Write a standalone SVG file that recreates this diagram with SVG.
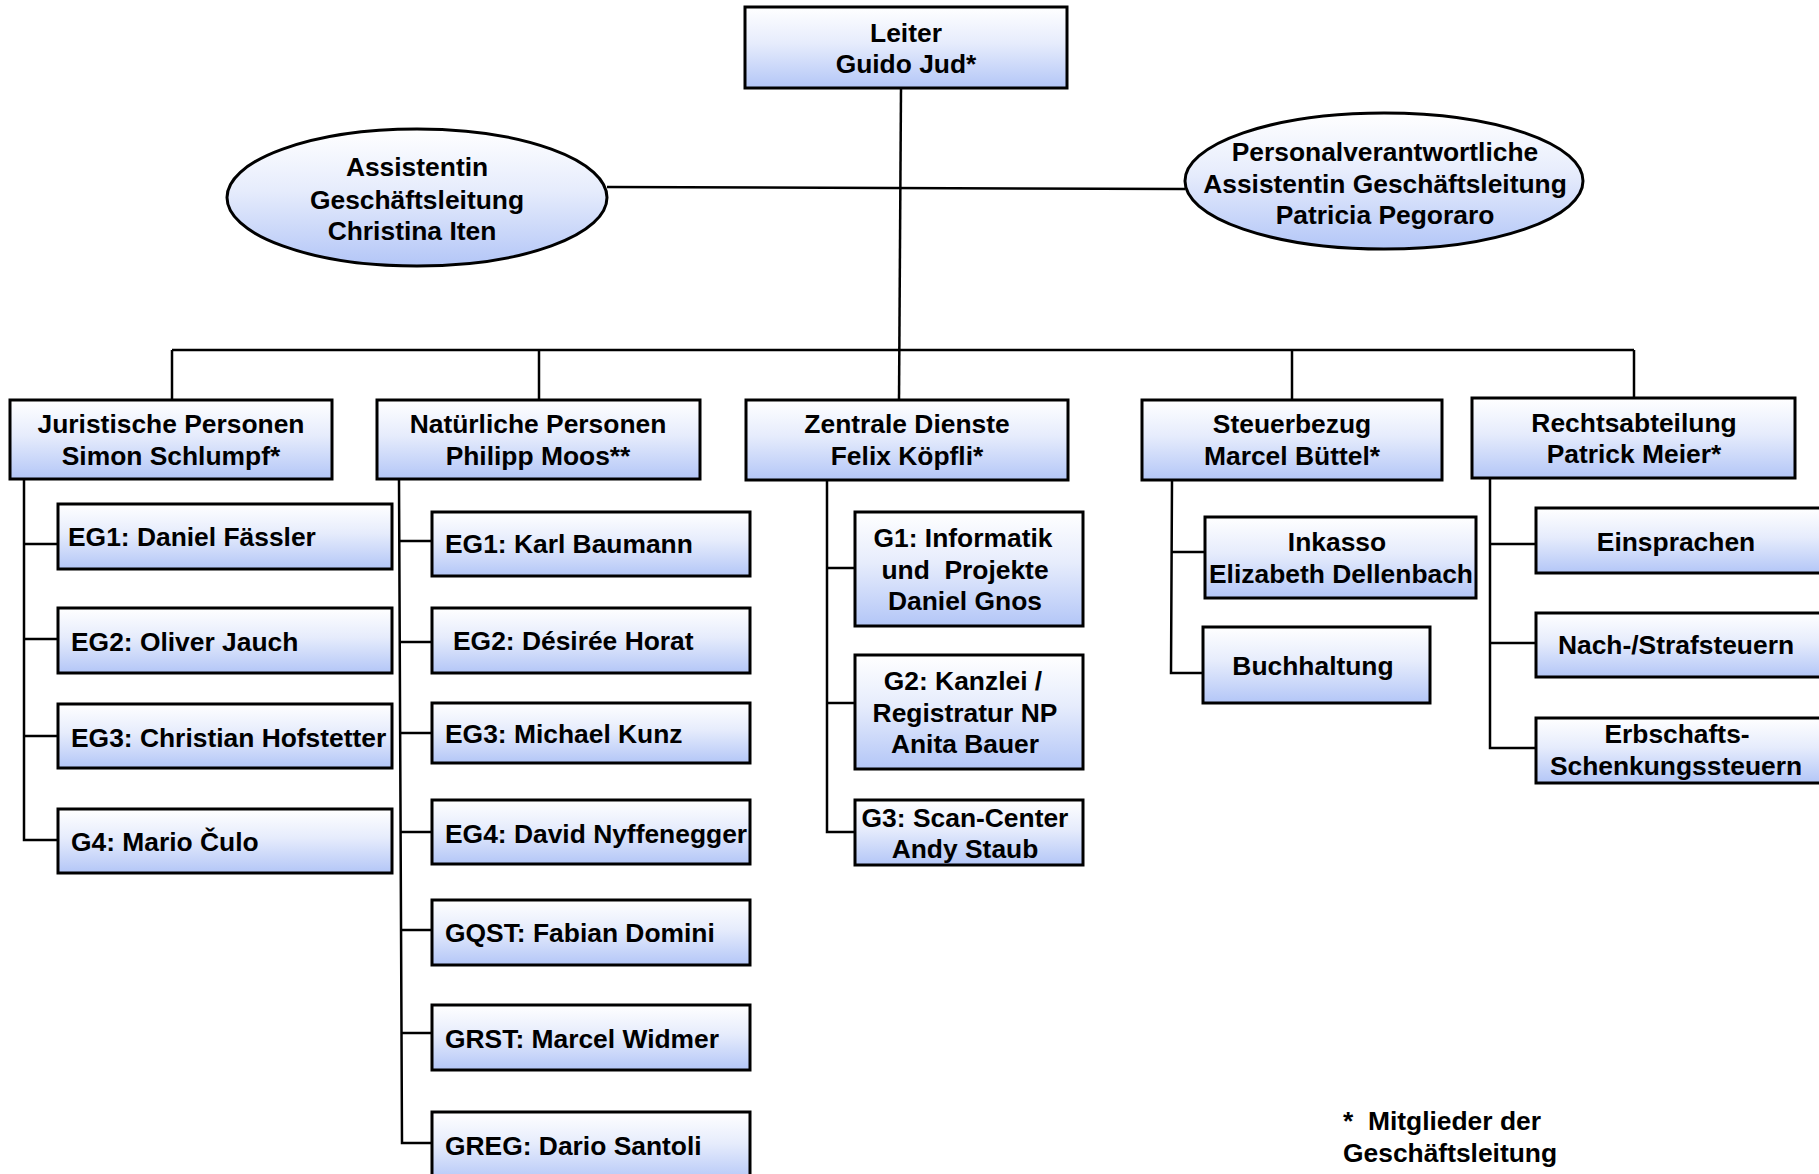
<svg xmlns="http://www.w3.org/2000/svg" width="1819" height="1174" viewBox="0 0 1819 1174">
<defs>
<linearGradient id="g" x1="0" y1="0" x2="0" y2="1">
<stop offset="0" stop-color="#ffffff"/>
<stop offset="0.45" stop-color="#e6ecfc"/>
<stop offset="1" stop-color="#b3c6f7"/>
</linearGradient>
<style>
.b{fill:url(#g);stroke:#000;stroke-width:3}
.t{font-family:"Liberation Sans",Arial,sans-serif;font-weight:bold;font-size:26.4px;fill:#000}
.c{text-anchor:middle}
.l{fill:none;stroke:#000;stroke-width:2.5}
</style>
</defs>
<rect width="1819" height="1174" fill="#fff"/>
<g id="connectors" class="l">
<line x1="901" y1="88" x2="899" y2="400"/>
<line x1="607" y1="187" x2="1185" y2="189"/>
<line x1="172" y1="350" x2="1634" y2="350"/>
<line x1="172" y1="350" x2="172" y2="400"/>
<line x1="539" y1="350" x2="539" y2="400"/>
<line x1="1292" y1="350" x2="1292" y2="400"/>
<line x1="1634" y1="350" x2="1634" y2="398"/>
<polyline points="24,479 24,840 58,840"/>
<line x1="24" y1="544" x2="58" y2="544"/>
<line x1="24" y1="639" x2="58" y2="639"/>
<line x1="24" y1="736" x2="58" y2="736"/>
<polyline points="399,479 402,1143 432,1143"/>
<line x1="399" y1="541" x2="432" y2="541"/>
<line x1="400" y1="642" x2="432" y2="642"/>
<line x1="400" y1="733" x2="432" y2="733"/>
<line x1="400" y1="832" x2="432" y2="832"/>
<line x1="401" y1="930" x2="432" y2="930"/>
<line x1="401" y1="1033" x2="432" y2="1033"/>
<polyline points="827,480 827,832 855,832"/>
<line x1="827" y1="568" x2="855" y2="568"/>
<line x1="827" y1="703" x2="855" y2="703"/>
<polyline points="1172,480 1171,673 1203,673"/>
<line x1="1172" y1="552" x2="1205" y2="552"/>
<polyline points="1490,478 1490,748 1536,748"/>
<line x1="1490" y1="544" x2="1536" y2="544"/>
<line x1="1490" y1="643" x2="1536" y2="643"/>
</g>
<g id="leiter"><rect class="b" x="745" y="7" width="322" height="81"/>
<text class="t c" x="906" y="42">Leiter</text><text class="t c" x="906" y="73">Guido Jud*</text></g>
<g id="assistentin"><ellipse class="b" cx="417" cy="197.5" rx="190" ry="68.5"/>
<text class="t c" x="417" y="176">Assistentin</text><text class="t c" x="417" y="209">Geschäftsleitung</text><text class="t c" x="412" y="240">Christina Iten</text></g>
<g id="personal"><ellipse class="b" cx="1384" cy="181" rx="199" ry="68"/>
<text class="t c" x="1385" y="161">Personalverantwortliche</text><text class="t c" x="1385" y="193">Assistentin Geschäftsleitung</text><text class="t c" x="1385" y="224">Patricia Pegoraro</text></g>
<g id="juristische"><rect class="b" x="10" y="400" width="322" height="79"/>
<text class="t c" x="171" y="433">Juristische Personen</text><text class="t c" x="171" y="465">Simon Schlumpf*</text></g>
<g id="natuerliche"><rect class="b" x="377" y="400" width="323" height="79"/>
<text class="t c" x="538" y="433">Natürliche Personen</text><text class="t c" x="538" y="465">Philipp Moos**</text></g>
<g id="zentrale"><rect class="b" x="746" y="400" width="322" height="80"/>
<text class="t c" x="907" y="433">Zentrale Dienste</text><text class="t c" x="907" y="465">Felix Köpfli*</text></g>
<g id="steuerbezug"><rect class="b" x="1142" y="400" width="300" height="80"/>
<text class="t c" x="1292" y="433">Steuerbezug</text><text class="t c" x="1292" y="465">Marcel Büttel*</text></g>
<g id="rechtsabteilung"><rect class="b" x="1472" y="398" width="323" height="80"/>
<text class="t c" x="1634" y="432">Rechtsabteilung</text><text class="t c" x="1634" y="463">Patrick Meier*</text></g>
<g id="jp-eg1"><rect class="b" x="58" y="504" width="334" height="65"/><text class="t" x="68" y="546">EG1: Daniel Fässler</text></g>
<g id="jp-eg2"><rect class="b" x="58" y="608" width="334" height="65"/><text class="t" x="71" y="651">EG2: Oliver Jauch</text></g>
<g id="jp-eg3"><rect class="b" x="58" y="704" width="334" height="64"/><text class="t" x="71" y="747">EG3: Christian Hofstetter</text></g>
<g id="jp-g4"><rect class="b" x="58" y="809" width="334" height="64"/><text class="t" x="71" y="851">G4: Mario Čulo</text></g>
<g id="np-eg1"><rect class="b" x="432" y="512" width="318" height="64"/><text class="t" x="445" y="553">EG1: Karl Baumann</text></g>
<g id="np-eg2"><rect class="b" x="432" y="608" width="318" height="65"/><text class="t" x="453" y="650">EG2: Désirée Horat</text></g>
<g id="np-eg3"><rect class="b" x="432" y="703" width="318" height="60"/><text class="t" x="445" y="743">EG3: Michael Kunz</text></g>
<g id="np-eg4"><rect class="b" x="432" y="800" width="318" height="64"/><text class="t" x="445" y="843">EG4: David Nyffenegger</text></g>
<g id="np-gqst"><rect class="b" x="432" y="900" width="318" height="65"/><text class="t" x="445" y="942">GQST: Fabian Domini</text></g>
<g id="np-grst"><rect class="b" x="432" y="1005" width="318" height="65"/><text class="t" x="445" y="1048">GRST: Marcel Widmer</text></g>
<g id="np-greg"><rect class="b" x="432" y="1112" width="318" height="70"/><text class="t" x="445" y="1155">GREG: Dario Santoli</text></g>
<g id="zd-g1"><rect class="b" x="855" y="512" width="228" height="114"/>
<text class="t c" x="963" y="547">G1: Informatik</text><text class="t c" x="965" y="579" xml:space="preserve">und  Projekte</text><text class="t c" x="965" y="610">Daniel Gnos</text></g>
<g id="zd-g2"><rect class="b" x="855" y="655" width="228" height="114"/>
<text class="t c" x="963" y="690">G2: Kanzlei /</text><text class="t c" x="965" y="722">Registratur NP</text><text class="t c" x="965" y="753">Anita Bauer</text></g>
<g id="zd-g3"><rect class="b" x="855" y="800" width="228" height="65"/>
<text class="t c" x="965" y="827">G3: Scan-Center</text><text class="t c" x="965" y="858">Andy Staub</text></g>
<g id="sb-inkasso"><rect class="b" x="1205" y="517" width="271" height="81"/>
<text class="t c" x="1337" y="551">Inkasso</text><text class="t c" x="1341" y="583">Elizabeth Dellenbach</text></g>
<g id="sb-buchhaltung"><rect class="b" x="1203" y="627" width="227" height="76"/>
<text class="t c" x="1313" y="675">Buchhaltung</text></g>
<g id="ra-einsprachen"><rect class="b" x="1536" y="508" width="290" height="65"/>
<text class="t c" x="1676" y="551">Einsprachen</text></g>
<g id="ra-nach"><rect class="b" x="1536" y="613" width="290" height="64"/>
<text class="t c" x="1676" y="654">Nach-/Strafsteuern</text></g>
<g id="ra-erbschaft"><rect class="b" x="1536" y="718" width="290" height="65"/>
<text class="t c" x="1677" y="743">Erbschafts-</text><text class="t c" x="1676" y="775">Schenkungssteuern</text></g>
<g id="footnote"><text class="t" x="1343" y="1130" xml:space="preserve">*  Mitglieder der</text><text class="t" x="1343" y="1162">Geschäftsleitung</text></g>
</svg>
